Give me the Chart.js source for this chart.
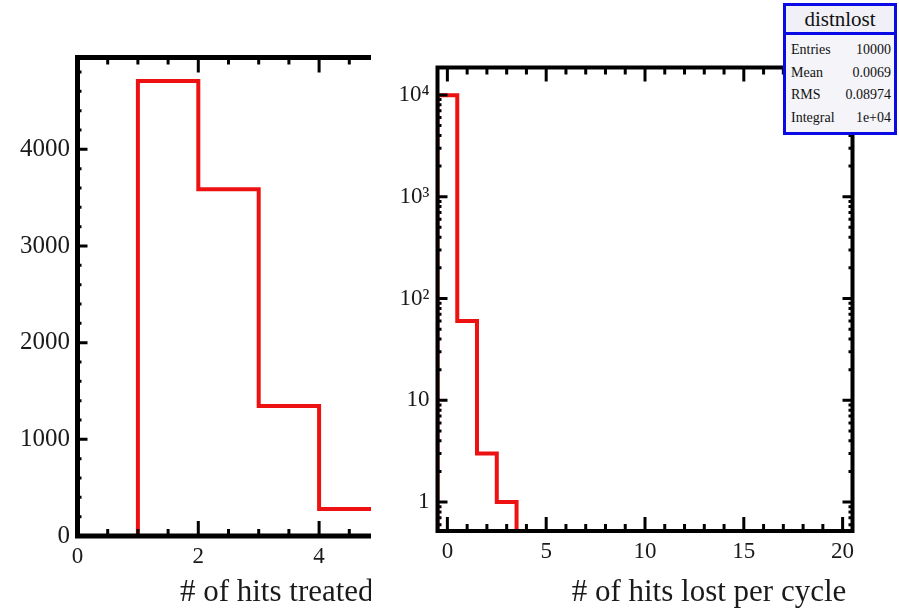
<!DOCTYPE html>
<html>
<head>
<meta charset="utf-8">
<script src="https://cdn.jsdelivr.net/npm/chart.js@4.4.1/dist/chart.umd.min.js"></script>
<style>
  html, body { margin: 0; padding: 0; background: #ffffff; }
  body { width: 899px; height: 608px; position: relative; overflow: hidden; font-family: "Liberation Serif", "DejaVu Serif", serif; }
  #leftWrap { position: absolute; left: 0; top: 0; width: 371px; height: 608px; overflow: hidden; }
  #leftCanvas { position: absolute; left: 0; top: 0; }
  #rightCanvas { position: absolute; left: 380px; top: 0; }
  #stats { position: absolute; left: 783px; top: 3px; width: 108px; height: 126px; border: 3px solid #0a0ae6; background: #f4f4f9; color: #111; }
  #stats .hdr { position: absolute; left: 0; top: 0; width: 108px; height: 26px; border-bottom: 3px solid #0a0ae6; text-align: center; font-size: 21px; line-height: 26px; background: #f0f0f6; }
  #stats .row { position: absolute; left: 5px; width: 100px; height: 20px; font-size: 14px; line-height: 20px; }
  #stats .row .l { position: absolute; left: 0; top: 0; }
  #stats .row .v { position: absolute; right: 0; top: 0; }
</style>
</head>
<body>
<div id="leftWrap"><canvas id="leftCanvas" width="580" height="608"></canvas></div>
<canvas id="rightCanvas" width="519" height="608"></canvas>
<div id="stats"></div>
<script>
// ---------------- data ----------------
const leftBinEdges = [0, 1, 2, 3, 4, 5];
const leftCounts = [0, 4706, 3587, 1344, 279];
const leftXTicks = [0, 2, 4, 6];
const leftYTicks = [0, 1000, 2000, 3000, 4000];
const leftXTitle = '# of hits treated per cycle';

const rightBinEdges = [-0.5, 0.5, 1.5, 2.5, 3.5, 4.5, 5.5, 6.5, 7.5, 8.5, 9.5, 10.5,
                       11.5, 12.5, 13.5, 14.5, 15.5, 16.5, 17.5, 18.5, 19.5, 20.5];
const rightCounts = [9936, 60, 3, 1, 0, 0, 0, 0, 0, 0, 0, 0, 0, 0, 0, 0, 0, 0, 0, 0, 0];
const rightXTicks = [0, 5, 10, 15, 20];
const rightYTicks = [1, 10, 100, 1000, 10000];
const rightYTickLabels = ['1', '10', '10\u00B2', '10\u00B3', '10\u2074'];
const rightXTitle = '# of hits lost per cycle';

const statsTitle = 'distnlost';
const statLabels = ['Entries', 'Mean', 'RMS', 'Integral'];
const statValues = ['10000', '0.0069', '0.08974', '1e+04'];

// ---------------- style ----------------
const SERIF = '"Liberation Serif", "DejaVu Serif", serif';
const RED = '#ee1111';
const TXT = '#1a1a1a';

function stepPoints(edges, counts, floor) {
  // histogram outline: horizontal at previous value, then vertical at the bin edge
  const pts = [{ x: edges[0], y: floor }];
  for (let i = 0; i < counts.length; i++) {
    const v = counts[i] > 0 ? counts[i] : floor;
    pts.push({ x: edges[i], y: v });
    pts.push({ x: edges[i + 1], y: v });
  }
  return pts;
}

function range(a, b, step) {
  const out = [];
  for (let v = a; v <= b + 1e-9; v += step) out.push(Math.round(v * 1000) / 1000);
  return out;
}
function logMinor(lo, hi) {
  const out = [];
  for (let d = -1; d <= 5; d++) {
    for (let k = 2; k <= 9; k++) {
      const v = k * Math.pow(10, d);
      if (v >= lo && v <= hi) out.push(v);
    }
  }
  return out;
}

function framePlugin(spec) {
  return {
    id: 'frameTicks',
    afterDatasetsDraw(chart) {
      const { ctx, chartArea: a, scales: { x, y } } = chart;
      ctx.save();
      ctx.strokeStyle = '#000';
      ctx.lineCap = 'butt';
      ctx.lineWidth = spec.tickWidth;
      ctx.beginPath();
      const xt = (vals, len) => vals.forEach(v => {
        const p = x.getPixelForValue(v);
        if (p < a.left - 0.5 || p > a.right + 0.5) return;
        ctx.moveTo(p, a.bottom); ctx.lineTo(p, a.bottom - len);
        ctx.moveTo(p, a.top); ctx.lineTo(p, a.top + len);
      });
      const yt = (vals, len) => vals.forEach(v => {
        const p = y.getPixelForValue(v);
        if (p < a.top - 0.5 || p > a.bottom + 0.5) return;
        ctx.moveTo(a.left, p); ctx.lineTo(a.left + len, p);
        ctx.moveTo(a.right, p); ctx.lineTo(a.right - len, p);
      });
      xt(spec.xMinor, spec.xMinorLen);
      xt(spec.xMajor, spec.xMajorLen);
      yt(spec.yMinor, spec.yMinorLen);
      yt(spec.yMajor, spec.yMajorLen);
      ctx.stroke();
      ctx.lineWidth = spec.frameWidth;
      ctx.strokeRect(a.left, a.top, a.right - a.left, a.bottom - a.top);
      ctx.restore();
    }
  };
}

// ---------------- left chart ----------------
const leftXMax = 7;
const leftYMax = 4950;
const LW = 580, LLeft = 77.5, LTop = 57.5, LBottom = 536;
const LRight = LLeft + leftXMax * 60.4;

new Chart(document.getElementById('leftCanvas'), {
  type: 'line',
  data: {
    datasets: [{
      data: stepPoints(leftBinEdges, leftCounts, 0),
      borderColor: RED, borderWidth: 4, pointRadius: 0, fill: false, tension: 0,
      borderJoinStyle: 'miter'
    }]
  },
  options: {
    responsive: false, animation: false, events: [],
    layout: { padding: { left: 0, top: LTop, right: LW - LRight, bottom: 0 } },
    plugins: { legend: { display: false }, tooltip: { enabled: false } },
    scales: {
      x: {
        type: 'linear', min: 0, max: leftXMax,
        grid: { display: false, drawTicks: false }, border: { display: false },
        afterBuildTicks: s => { s.ticks = leftXTicks.map(v => ({ value: v })); },
        afterFit: s => { s.height = 608 - LBottom; },
        ticks: { font: { family: SERIF, size: 23 }, color: TXT, padding: 7, maxRotation: 0, autoSkip: false,
                 callback: v => String(v) },
        title: { display: true, text: leftXTitle + '\u2009', align: 'end', color: TXT, padding: 0,
                 font: { family: SERIF, size: 31, lineHeight: 1 } }
      },
      y: {
        type: 'linear', min: 0, max: leftYMax,
        grid: { display: false, drawTicks: false }, border: { display: false },
        afterBuildTicks: s => { s.ticks = leftYTicks.map(v => ({ value: v })); },
        afterFit: s => { s.width = LLeft; },
        ticks: { font: { family: SERIF, size: 25 }, color: TXT, padding: 7.5, autoSkip: false,
                 callback: v => String(v) }
      }
    }
  },
  plugins: [framePlugin({
    tickWidth: 3, frameWidth: 5,
    xMajor: range(0, 6, 2), xMinor: range(0, 7, 0.5), xMajorLen: 15, xMinorLen: 7,
    yMajor: range(0, 4000, 1000), yMinor: range(0, 4800, 200), yMajorLen: 10, yMinorLen: 4
  })]
});

// ---------------- right chart ----------------
const rightYMin = 0.52, rightYMax = 18600;
const RW = 519, RLeft = 57.5, RTop = 67.5, RBottom = 531, RRight = 472.5;

new Chart(document.getElementById('rightCanvas'), {
  type: 'line',
  data: {
    datasets: [{
      data: stepPoints(rightBinEdges, rightCounts, rightYMin),
      borderColor: RED, borderWidth: 4, pointRadius: 0, fill: false, tension: 0,
      borderJoinStyle: 'miter'
    }]
  },
  options: {
    responsive: false, animation: false, events: [],
    layout: { padding: { left: 0, top: RTop, right: RW - RRight, bottom: 0 } },
    plugins: { legend: { display: false }, tooltip: { enabled: false } },
    scales: {
      x: {
        type: 'linear', min: -0.5, max: 20.5,
        grid: { display: false, drawTicks: false }, border: { display: false },
        afterBuildTicks: s => { s.ticks = rightXTicks.map(v => ({ value: v })); },
        afterFit: s => { s.height = 608 - RBottom; },
        ticks: { font: { family: SERIF, size: 23 }, color: TXT, padding: 7.5, maxRotation: 0, autoSkip: false,
                 callback: v => String(v) },
        title: { display: true, text: rightXTitle + '\u2009', align: 'end', color: TXT, padding: 0,
                 font: { family: SERIF, size: 31, lineHeight: 1 } }
      },
      y: {
        type: 'logarithmic', min: rightYMin, max: rightYMax,
        grid: { display: false, drawTicks: false }, border: { display: false },
        afterBuildTicks: s => { s.ticks = rightYTicks.map(v => ({ value: v })); },
        afterFit: s => { s.width = RLeft; },
        ticks: { font: { family: SERIF, size: 23 }, color: TXT, padding: 8, autoSkip: false,
                 callback: (v, i) => rightYTickLabels[i] }
      }
    }
  },
  plugins: [framePlugin({
    tickWidth: 3, frameWidth: 4,
    xMajor: range(0, 20, 5), xMinor: range(0, 20, 1), xMajorLen: 14, xMinorLen: 7,
    yMajor: rightYTicks, yMinor: logMinor(rightYMin, rightYMax), yMajorLen: 10, yMinorLen: 4
  })]
});

// ---------------- stats box ----------------
const stats = document.getElementById('stats');
const hdr = document.createElement('div');
hdr.className = 'hdr'; hdr.textContent = statsTitle; stats.appendChild(hdr);
statLabels.forEach((lab, i) => {
  const r = document.createElement('div');
  r.className = 'row';
  r.style.top = (34 + i * 22.5) + 'px';
  const l = document.createElement('span'); l.className = 'l'; l.textContent = lab;
  const v = document.createElement('span'); v.className = 'v'; v.textContent = statValues[i];
  r.appendChild(l); r.appendChild(v); stats.appendChild(r);
});
</script>
</body>
</html>
